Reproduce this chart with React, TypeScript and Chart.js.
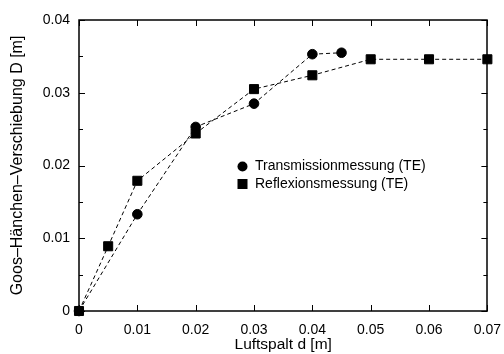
import React, { useEffect, useRef } from "react";
import { Chart, registerables } from "chart.js";

Chart.register(...registerables);

const transX = [0, 0.01, 0.02, 0.03, 0.04, 0.045];
const transY = [0, 0.0133, 0.0253, 0.0285, 0.0353, 0.0355];
const reflX = [0, 0.005, 0.01, 0.02, 0.03, 0.04, 0.05, 0.06, 0.07];
const reflY = [0, 0.0089, 0.0179, 0.0244, 0.0305, 0.0324, 0.0346, 0.0346, 0.0346];
const xTicks = [0, 0.01, 0.02, 0.03, 0.04, 0.05, 0.06, 0.07];
const yTicks = [0, 0.01, 0.02, 0.03, 0.04];
const yMinor = [0.005, 0.015, 0.025, 0.035];
const seriesNames = ["Transmissionmessung (TE)", "Reflexionsmessung (TE)"];
const xTitle = "Luftspalt d [m]";
const yTitle = "Goos\u2013H\u00e4nchen\u2013Verschiebung D [m]";

const FONT = "'Liberation Sans', Arial, sans-serif";

const framePlugin = {
  id: "frame",
  afterDraw(chart: any) {
    const { ctx, chartArea: a, scales } = chart;
    const xs = scales.x;
    const ys = scales.y;
    ctx.save();
    ctx.strokeStyle = "#000";
    ctx.lineWidth = 1.5;
    ctx.strokeRect(Math.round(a.left), Math.round(a.top), Math.round(a.right - a.left), Math.round(a.bottom - a.top));
    ctx.lineWidth = 1;
    const L = 6;
    const l = 4;
    ctx.beginPath();
    xTicks.forEach((v) => {
      const px = Math.round(xs.getPixelForValue(v)) + 0.5;
      ctx.moveTo(px, a.bottom);
      ctx.lineTo(px, a.bottom - L);
      ctx.moveTo(px, a.top);
      ctx.lineTo(px, a.top + L);
    });
    yTicks.forEach((v) => {
      const py = Math.round(ys.getPixelForValue(v)) + 0.5;
      ctx.moveTo(a.left, py);
      ctx.lineTo(a.left + L, py);
      ctx.moveTo(a.right, py);
      ctx.lineTo(a.right - L, py);
    });
    yMinor.forEach((v) => {
      const py = Math.round(ys.getPixelForValue(v)) + 0.5;
      ctx.moveTo(a.left, py);
      ctx.lineTo(a.left + l, py);
      ctx.moveTo(a.right, py);
      ctx.lineTo(a.right - l, py);
    });
    ctx.stroke();

    // legend
    ctx.fillStyle = "#000";
    ctx.font = `14px ${FONT}`;
    ctx.textBaseline = "middle";
    ctx.textAlign = "left";
    const lx = 242.5;
    const ly1 = 166.5;
    const ly2 = 184;
    ctx.beginPath();
    ctx.arc(lx, ly1, 5, 0, Math.PI * 2);
    ctx.fill();
    ctx.fillRect(lx - 5, ly2 - 5, 10, 10);
    ctx.fillText(seriesNames[0], 255, ly1);
    ctx.fillText(seriesNames[1], 255, ly2);
    ctx.restore();
  },
};

export default function App() {
  const ref = useRef<HTMLCanvasElement>(null);
  useEffect(() => {
    document.body.style.margin = "0";
    const c = new Chart(ref.current!, {
      type: "scatter",
      data: {
        datasets: [
          {
            label: seriesNames[0],
            data: transX.map((x, i) => ({ x, y: transY[i] })),
            showLine: true,
            borderColor: "#000",
            backgroundColor: "#000",
            borderWidth: 1,
            borderDash: [4, 3],
            pointStyle: "circle",
            pointRadius: 4.8,
            clip: false,
          },
          {
            label: seriesNames[1],
            data: reflX.map((x, i) => ({ x, y: reflY[i] })),
            showLine: true,
            borderColor: "#000",
            backgroundColor: "#000",
            borderWidth: 1,
            borderDash: [4, 3],
            pointStyle: "rect",
            pointRadius: 6.4,
            clip: false,
          },
        ],
      },
      options: {
        animation: false,
        responsive: false,
        layout: { padding: { top: 20, right: 16, left: 0, bottom: 0 } },
        plugins: { legend: { display: false }, tooltip: { enabled: false } },
        scales: {
          x: {
            type: "linear",
            min: 0,
            max: 0.07,
            afterBuildTicks: (s: any) => {
              s.ticks = xTicks.map((v) => ({ value: v }));
            },
            afterFit: (s: any) => {
              s.height = 43;
            },
            grid: { display: false },
            border: { display: false },
            ticks: {
              color: "#000",
              font: { family: FONT, size: 14 },
              padding: 3,
              maxRotation: 0,
              callback: (v: any) => String(Number(v)),
            },
            title: {
              display: true,
              text: xTitle,
              color: "#000",
              font: { family: FONT, size: 15.5 },
              padding: { top: 0, bottom: 0 },
            },
          },
          y: {
            type: "linear",
            min: 0,
            max: 0.04,
            afterBuildTicks: (s: any) => {
              s.ticks = yTicks.map((v) => ({ value: v }));
            },
            afterFit: (s: any) => {
              s.width = 79;
            },
            grid: { display: false },
            border: { display: false },
            ticks: {
              color: "#000",
              font: { family: FONT, size: 14 },
              padding: 1,
              callback: (v: any) => String(Number(v)),
            },
            title: {
              display: true,
              text: yTitle,
              color: "#000",
              font: { family: FONT, size: 16 },
              padding: { top: 8, bottom: 0 },
            },
          },
        },
      },
      plugins: [framePlugin],
    });
    return () => c.destroy();
  }, []);
  return (
    <div style={{ position: "absolute", left: 0, top: 0, width: 504, height: 354, background: "#fff" }}>
      <canvas ref={ref} width={504} height={354} />
    </div>
  );
}
